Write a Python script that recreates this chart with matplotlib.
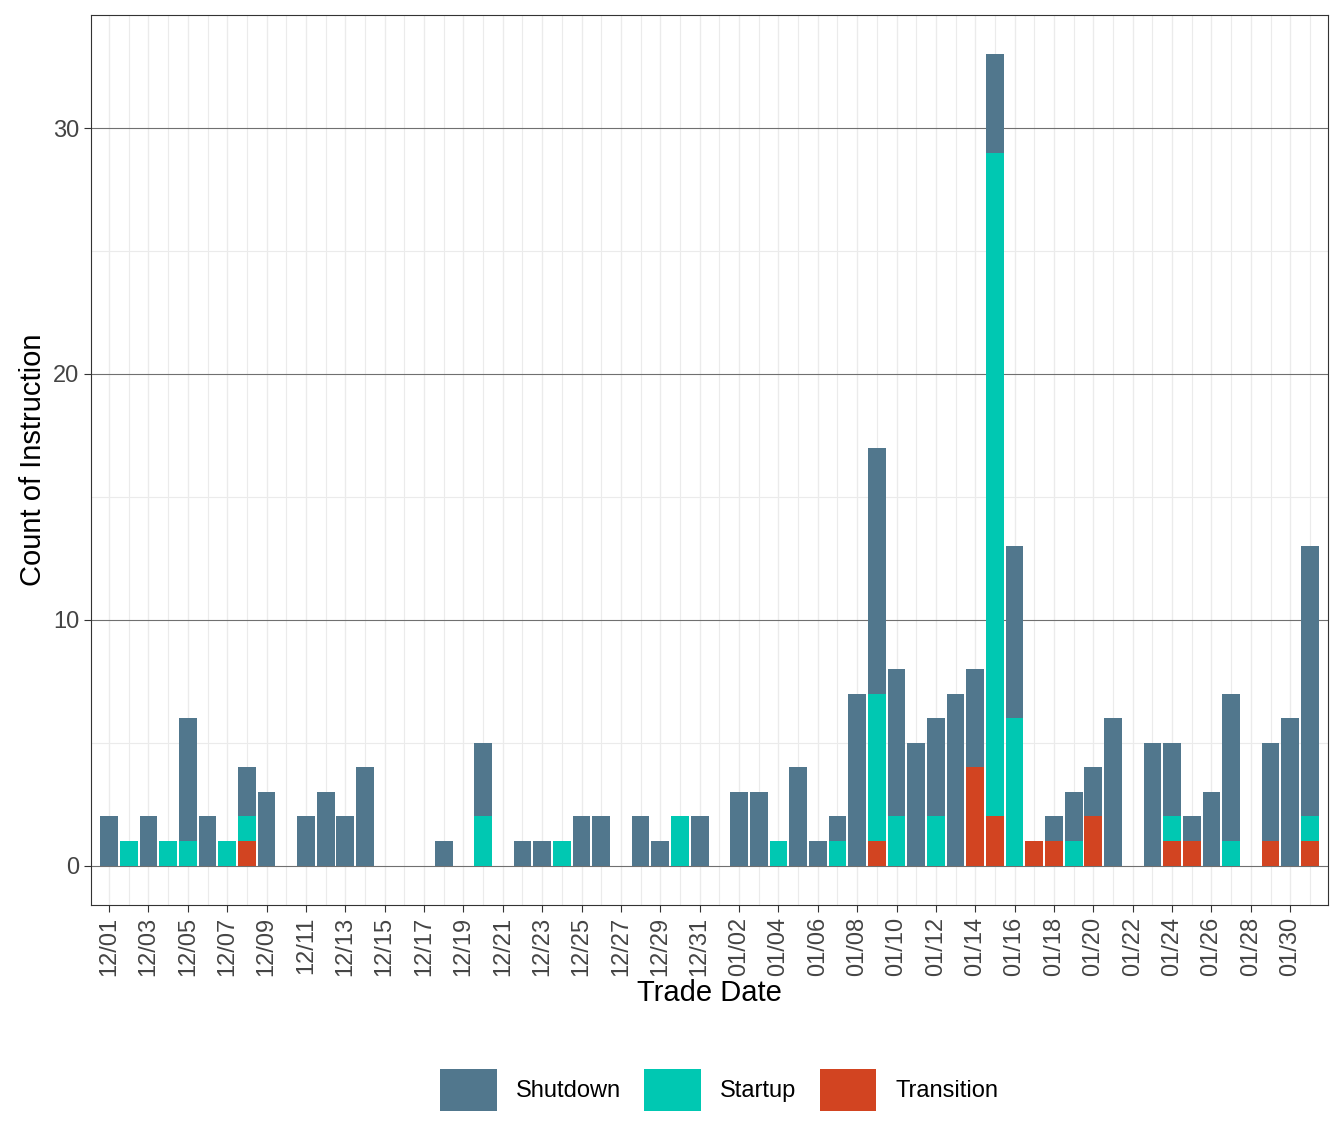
import matplotlib
matplotlib.use("Agg")
import matplotlib.pyplot as plt
import numpy as np
import datetime as dt

plt.rcParams["font.family"] = "Liberation Sans"

start = dt.date(2023, 12, 1)
dates = [start + dt.timedelta(days=i) for i in range(62)]
labels = [d.strftime("%m/%d") for d in dates]

shutdown = [2,0,2,0,5,2,0,2,3,0, 2,3,2,4,0,0,0,1,0,3, 0,1,1,0,2,2,0,2,1,0, 2,
            0,3,3,0,4,1,1,7,10,6, 5,4,7,4,4,7,0,1,2,2, 6,0,5,3,1,3,6,0,4,6, 11]
startup  = [0,1,0,1,1,0,1,1,0,0, 0,0,0,0,0,0,0,0,0,2, 0,0,0,1,0,0,0,0,0,2, 0,
            0,0,0,1,0,0,1,0,6,2, 0,2,0,0,27,6,0,0,1,0, 0,0,0,1,0,0,1,0,0,0, 1]
transition=[0,0,0,0,0,0,0,1,0,0, 0,0,0,0,0,0,0,0,0,0, 0,0,0,0,0,0,0,0,0,0, 0,
            0,0,0,0,0,0,0,0,1,0, 0,0,0,4,2,0,1,1,0,2, 0,0,0,1,1,0,0,0,1,0, 1]

c_sh, c_st, c_tr = "#51778D", "#00C8B2", "#D24421"
x = np.arange(len(dates))
fig = plt.figure(figsize=(13.44, 11.42), dpi=100)
ax = fig.add_axes([91/1344, 1-905/1142, (1328-91)/1344, (905-15)/1142])
tr = np.array(transition); st = np.array(startup); sh = np.array(shutdown)
ax.bar(x, tr, 0.9, color=c_tr, label="Transition", zorder=3)
ax.bar(x, st, 0.9, bottom=tr, color=c_st, label="Startup", zorder=3)
ax.bar(x, sh, 0.9, bottom=tr+st, color=c_sh, label="Shutdown", zorder=3)
ax.set_xlim(-0.92, 61.92)
ax.set_ylim(-1.6, 34.6)
ax.set_xticks(x[::2])
ax.set_xticklabels(labels[::2], rotation=90, fontsize=17, color="#444444")
ax.set_xticks(x[1::2], minor=True)
ax.set_yticks([0, 10, 20, 30])
ax.set_yticks([5, 15, 25], minor=True)
ax.tick_params(axis="y", labelsize=17, labelcolor="#444444")
ax.tick_params(which="minor", length=0)
ax.tick_params(which="major", length=5, color="#333333")
ax.grid(which="major", axis="x", color="#EBEBEB", lw=1, zorder=0)
ax.grid(which="minor", color="#EBEBEB", lw=0.8, zorder=0)
ax.grid(which="major", axis="y", color="#707070", lw=0.8, zorder=0)
for s in ax.spines.values():
    s.set_color("#333333")
ax.set_xlabel("Trade Date", fontsize=21, labelpad=2)
ax.set_ylabel("Count of Instruction", fontsize=21)
h, l = ax.get_legend_handles_labels()
fig.legend(h[::-1], l[::-1], loc="center", bbox_to_anchor=(0.535, 1-1090/1142), ncol=3,
           frameon=False, fontsize=17, handlelength=2.4, handleheight=2.4, columnspacing=1.0)
fig.savefig("out.png", dpi=100)
